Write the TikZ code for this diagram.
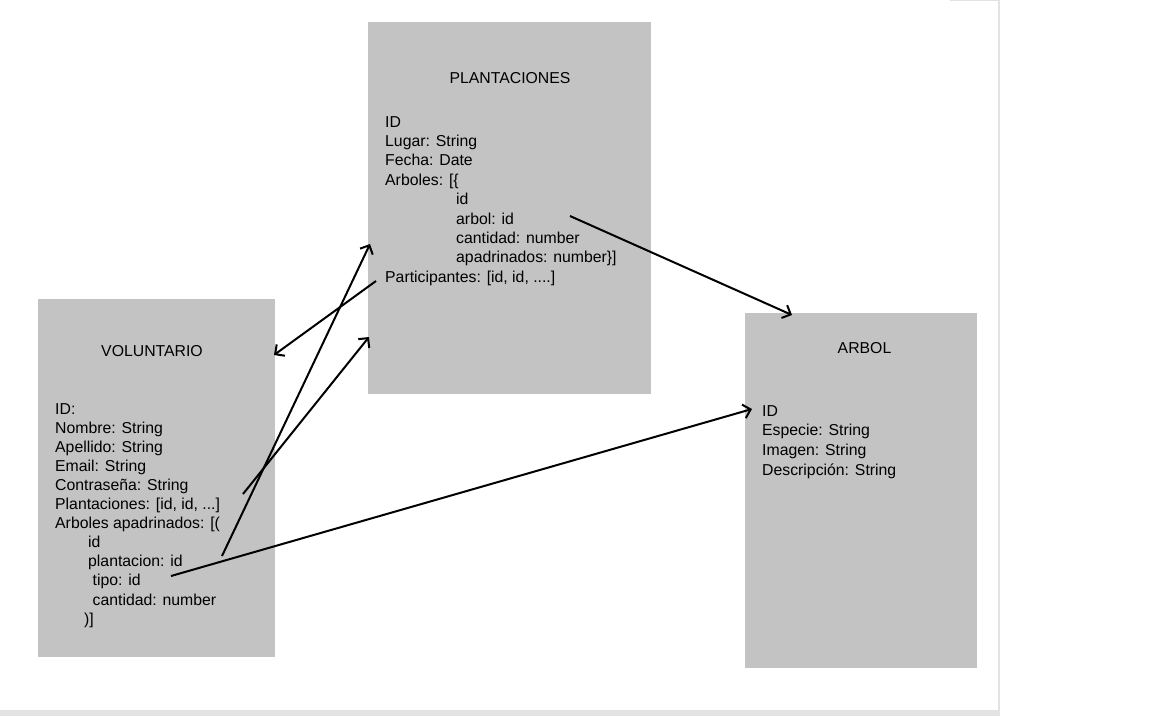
\documentclass[tikz,border=0pt]{standalone}
\usepackage{fontspec}
\setmainfont{Liberation Sans}
\usetikzlibrary{arrows.meta}
\definecolor{boxgray}{HTML}{C3C3C3}
\definecolor{edgegray}{HTML}{E3E3E3}
\tikzset{
  box/.style={fill=boxgray, draw=none, inner sep=0pt, anchor=north west},
  txt/.style={anchor=base west, inner sep=0pt, font=\fontsize{15.8}{19}\selectfont},
  ttl/.style={anchor=base, inner sep=0pt, font=\fontsize{15.8}{19}\selectfont},
  conn/.style={line width=2pt, -{Straight Barb[length=7pt,width=14pt,line width=2pt]}}
}
\begin{document}
\begin{tikzpicture}[x=1pt,y=-1pt]
\useasboundingbox (0,0) rectangle (1152,716);
\fill[white] (0,0) rectangle (1152,716);
% frame of the canvas
\fill[edgegray] (0,710) rectangle (999,716);
\fill[edgegray] (997.5,0) rectangle (999.5,716);
\fill[edgegray] (950,0) rectangle (999,1);

% boxes
\node[box, minimum width=283pt, minimum height=372pt] (plant) at (368,22) {};
\node[box, minimum width=237pt, minimum height=358pt] (vol) at (38,299) {};
\node[box, minimum width=232pt, minimum height=355pt] (arbol) at (745,313) {};

% PLANTACIONES
\node[ttl] (pt) at (510,83) {PLANTACIONES};
\node[txt] (p1) at (385,127) {ID};
\node[txt] (p2) at (385,146.4) {Lugar: String};
\node[txt] (p3) at (385,165.8) {Fecha: Date};
\node[txt] (p4) at (385,185.2) {Arboles: [\{};
\node[txt] (p5) at (456,204.6) {id};
\node[txt] (p6) at (456,224) {arbol: id};
\node[txt] (p7) at (456,243.4) {cantidad: number};
\node[txt] (p8) at (456,262.8) {apadrinados: number\}]};
\node[txt] (p9) at (385,282.2) {Participantes: [id, id, ....]};

% VOLUNTARIO
\node[ttl] (vt) at (152,356) {VOLUNTARIO};
\node[txt] (v1) at (55,414) {ID:};
\node[txt] (v2) at (55,433.1) {Nombre: String};
\node[txt] (v3) at (55,452.2) {Apellido: String};
\node[txt] (v4) at (55,471.3) {Email: String};
\node[txt] (v5) at (55,490.4) {Contraseña: String};
\node[txt] (v6) at (55,509.5) {Plantaciones: [id, id, ...]};
\node[txt] (v7) at (55,528.6) {Arboles apadrinados: [(};
\node[txt] (v8) at (88,547.7) {id};
\node[txt] (v9) at (88,566.8) {plantacion: id};
\node[txt] (v10) at (92.5,585.9) {tipo: id};
\node[txt] (v11) at (92.5,605) {cantidad: number};
\node[txt] (v12) at (84,624.1) {)]};

% ARBOL
\node[ttl] (at) at (864.5,353) {ARBOL};
\node[txt] (a1) at (762,416) {ID};
\node[txt] (a2) at (762,435.8) {Especie: String};
\node[txt] (a3) at (762,455.6) {Imagen: String};
\node[txt] (a4) at (762,475.4) {Descripción: String};

% connector end points
\coordinate (c1s) at (570,216);
\coordinate (c1e) at (792,315);
\coordinate (c2s) at (376,281);
\coordinate (c2e) at (274,355);
\coordinate (c3s) at (222,556);
\coordinate (c3e) at (370,244);
\coordinate (c4s) at (243,494);
\coordinate (c4e) at (369,337);
\coordinate (c5s) at (171,576);
\coordinate (c5e) at (752,409);

\draw[conn] (c1s) -- (c1e);
\draw[conn] (c2s) -- (c2e);
\draw[conn] (c3s) -- (c3e);
\draw[conn] (c4s) -- (c4e);
\draw[conn] (c5s) -- (c5e);
\end{tikzpicture}
\end{document}
